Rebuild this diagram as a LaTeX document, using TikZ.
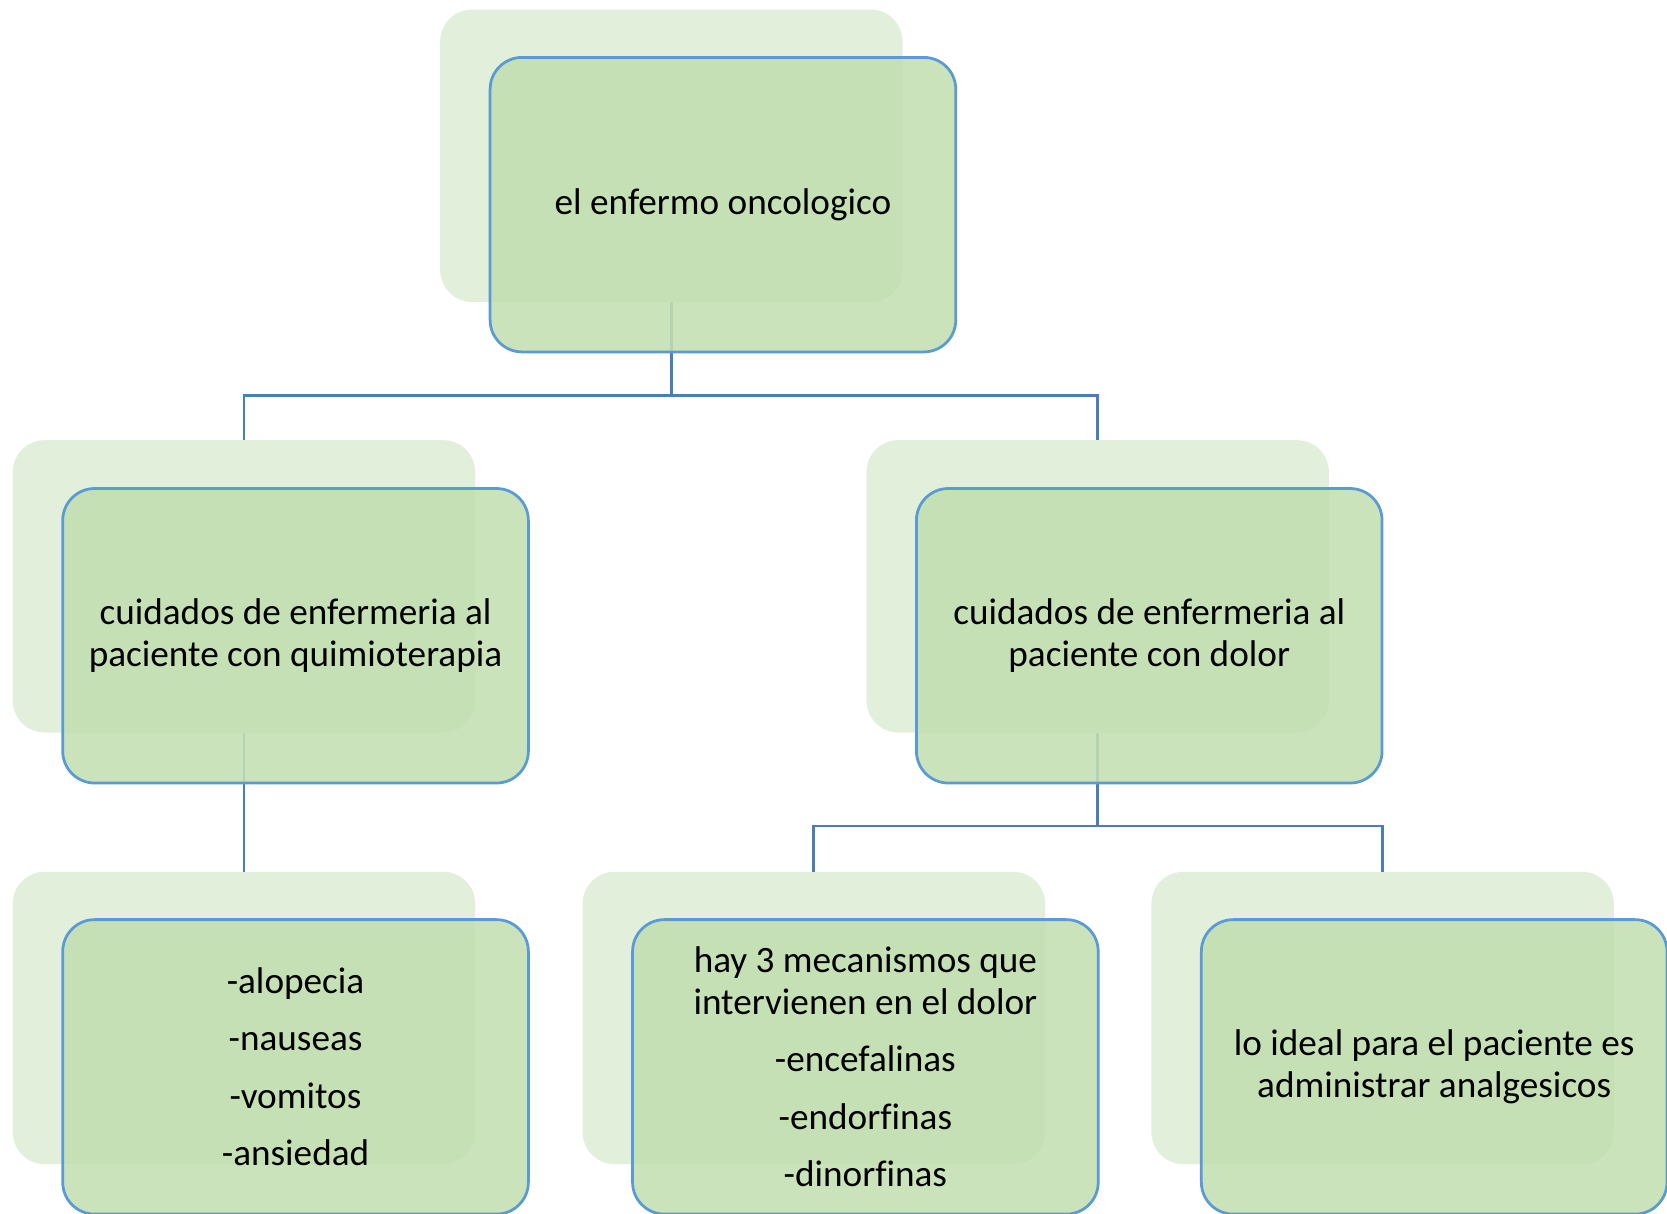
\documentclass[tikz,border=0pt]{standalone}
\usepackage{fontspec}
\setmainfont[Ligatures=NoCommon]{Carlito}
\usetikzlibrary{calc}
\definecolor{backfill}{HTML}{E2EFDA}
\definecolor{frontfill}{HTML}{C3DFB1}
\definecolor{frontdraw}{HTML}{5B9BD5}
\definecolor{conncol}{HTML}{4A7EBB}
\begin{document}
\begin{tikzpicture}[x=1pt,y=-1pt,
  backbox/.style={rectangle, rounded corners=30pt, fill=backfill, draw=none,
    minimum width=435pt, minimum height=275pt, inner sep=0pt, outer sep=0pt},
  frontbox/.style={rectangle, rounded corners=30pt, fill=frontfill, fill opacity=0.88,
    text opacity=1, draw=frontdraw, draw opacity=1, line width=2.6pt,
    minimum width=438pt, minimum height=277pt, inner sep=0pt, outer sep=0pt,
    align=center, font=\fontsize{35}{39}\selectfont},
  conn/.style={draw=conncol, line width=2.6pt}]
\useasboundingbox (0,0) rectangle (1568,1141);
% back boxes
\node[backbox] (b1) at (631.5,146.5) {};
\node[backbox] (b2) at (229.5,551.5) {};
\node[backbox] (b3) at (1032.5,551.5) {};
\node[backbox] (b4) at (229.5,957.5) {};
\node[backbox] (b5) at (765.5,957.5) {};
\node[backbox] (b6) at (1300.5,957.5) {};
% connectors
\coordinate (j1) at (631.5,372);
\coordinate (j2) at (1032.5,777);
\draw[conn] (b1.south) -- (j1);
\draw[conn] (b2.north) |- (j1) -| (b3.north);
\draw[conn] (b2.south) -- (b4.north);
\draw[conn] (b3.south) -- (j2);
\draw[conn] (b5.north) |- (j2) -| (b6.north);
% front boxes
\node[frontbox] (f1) at (680,192.5) {el enfermo oncologico};
\node[frontbox] (f2) at (278,598) {cuidados de enfermeria al\\paciente con quimioterapia};
\node[frontbox] (f3) at (1081,598) {cuidados de enfermeria al\\paciente con dolor};
\node[frontbox] (f4) at (278,1003.5) {-alopecia\\[15pt]-nauseas\\[15pt]-vomitos\\[15pt]-ansiedad};
\node[frontbox] (f5) at (814,1003.5) {hay 3 mecanismos que\\intervienen en el dolor\\[15pt]-encefalinas\\[15pt]-endorfinas\\[15pt]-dinorfinas};
\node[frontbox] (f6) at (1349,1003.5) {lo ideal para el paciente es\\administrar analgesicos};
\end{tikzpicture}
\end{document}
